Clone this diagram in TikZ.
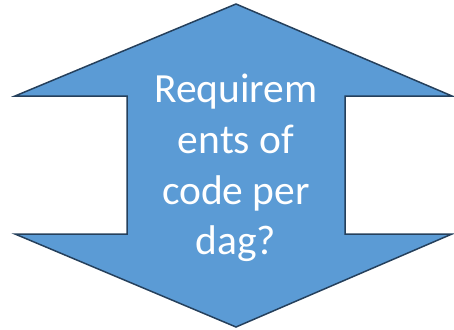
\documentclass[tikz,border=0pt]{standalone}
\usepackage{fontspec}
\setmainfont{Carlito}
\definecolor{arrowfill}{HTML}{5B9BD5}
\definecolor{arrowline}{HTML}{25405C}
\begin{document}
\begin{tikzpicture}[x=1pt,y=-1pt]
\useasboundingbox (0,0) rectangle (454,329);
\draw[fill=arrowfill,draw=arrowline,line width=1.5pt,line join=miter]
(236,4)--(452,96)--(345,96)--(345,234)--(452,234)--(236,327)
--(15,234)--(127,234)--(127,96)--(15,96)--cycle;
\node[text=white,align=center,font=\fontsize{41.5}{50.7}\selectfont,inner sep=0pt]
(question) at (236,168) {Requirem\\ents of\\code per\\dag?};
\end{tikzpicture}
\end{document}
